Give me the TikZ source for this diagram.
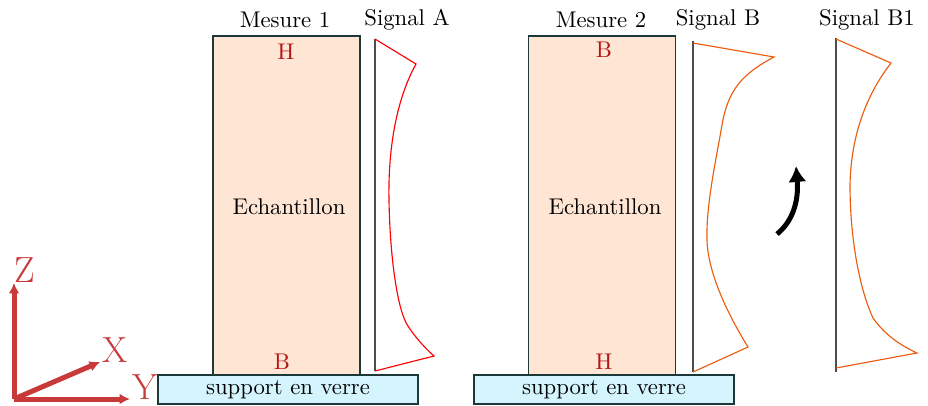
\documentclass[tikz,border=0pt]{standalone}
\usetikzlibrary{arrows.meta}
\definecolor{peach}{RGB}{254,229,212}
\definecolor{glass}{RGB}{212,245,253}
\definecolor{edge}{RGB}{28,56,56}
\definecolor{axisred}{RGB}{200,58,58}
\definecolor{letterred}{RGB}{180,20,20}
\definecolor{sigorange}{RGB}{236,92,12}

\begin{document}
\begin{tikzpicture}[x=0.44pt,y=-0.44pt]
  \tikzstyle{sample}=[draw=edge,fill=peach,line width=0.6pt,minimum width=64.7pt,minimum height=149.2pt,inner sep=0pt]
  \tikzstyle{support}=[draw=edge,fill=glass,line width=0.6pt,minimum width=114.4pt,minimum height=12.8pt,inner sep=0pt]
  \tikzstyle{face}=[text=letterred]
  \tikzstyle{axis}=[line width=2.2pt,draw=axisred,-{Latex[length=4.6pt,width=4.8pt]}]
  \tikzstyle{axislabel}=[text=axisred,font=\fontsize{16}{19}\selectfont,inner sep=1pt]
  \tikzstyle{baseline}=[draw=black!70,line width=0.5pt]
  \useasboundingbox (0,0) rectangle (928,405);
  % first measurement
  \node[sample] (ech1) at (286.5,205.5) {};
  \node (txt1) at (289,207) {Echantillon};
  \node[support] (sup1) at (288,389.5) {support en verre};
  \node[face] (h1) at (286,52) {H};
  \node[face] (b1) at (282,362) {B};
  \node (mes1) at (285,20) {Mesure 1};
  \node (sigA) at (407,20) {Signal A};
  \draw[baseline] (375,39) -- (375,371);
  \draw[red,line width=0.5pt] (375,39) -- (416,64) .. controls (396,100) and (388,150) .. (389,200)
    .. controls (390,260) and (398,312) .. (408,326) .. controls (415,337) and (425,348) .. (434,356) -- (375,371);
  % second measurement
  \node[sample] (ech2) at (602,205.5) {};
  \node (txt2) at (605,207) {Echantillon};
  \node[support] (sup2) at (604,389.5) {support en verre};
  \node[face] (b2) at (604,50) {B};
  \node[face] (h2) at (604,362) {H};
  \node (mes2) at (601,20) {Mesure 2};
  \node (sigB) at (718,20) {Signal B};
  \draw[baseline] (693,41) -- (693,372);
  \draw[sigorange,line width=0.5pt] (693,43) -- (774,57) .. controls (742,74) and (728,90) .. (722,125)
    .. controls (716,160) and (706,205) .. (707,240) .. controls (708,275) and (730,318) .. (748,347) -- (693,372);
  % flipped signal
  \coordinate (turn0) at (777,234);
  \coordinate (turn1) at (796,166);
  \draw[line width=2.2pt,-{Latex[length=7pt,width=8pt]}] (turn0) .. controls (792,222) and (799,202) .. (turn1);
  \node (sigB1) at (867,20) {Signal B1};
  \draw[draw=black!70,line width=0.9pt] (836,38) -- (836,372);
  \draw[sigorange,line width=0.5pt] (836,39) -- (891,63) .. controls (870,90) and (851,130) .. (850,185)
    .. controls (850,240) and (860,290) .. (873,318) .. controls (885,335) and (900,345) .. (917,353) -- (836,368);
  % axes
  \coordinate (o) at (14,399);
  \node[axislabel] (z) at (25,270) {Z};
  \node[axislabel] (y) at (145,387) {Y};
  \node[axislabel] (x) at (115,350) {X};
  \draw[axis] (o) -- (14,283);
  \draw[axis] (o) -- (130,399);
  \draw[axis] (o) -- (100,362);
\end{tikzpicture}
\end{document}
